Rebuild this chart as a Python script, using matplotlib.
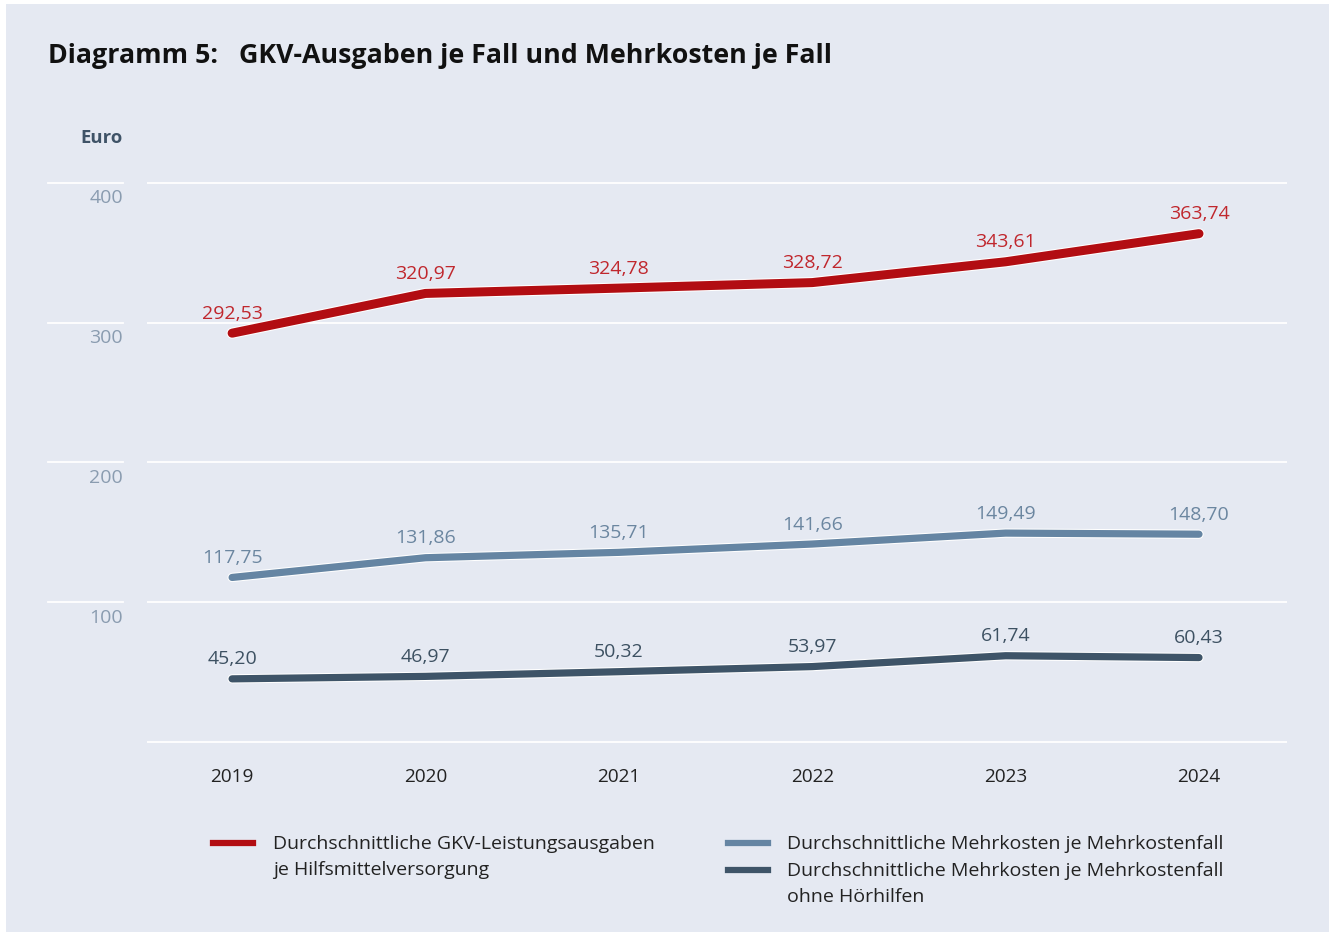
import matplotlib.pyplot as plt
import matplotlib.patheffects as pe
from matplotlib.patches import Rectangle

# Daten
years = [2019, 2020, 2021, 2022, 2023, 2024]
gkv_ausgaben = [292.53, 320.97, 324.78, 328.72, 343.61, 363.74]
mehrkosten = [117.75, 131.86, 135.71, 141.66, 149.49, 148.70]
mehrkosten_ohne_hoer = [45.20, 46.97, 50.32, 53.97, 61.74, 60.43]
y_ticks = [100, 200, 300, 400]

series_names = [
    "Durchschnittliche GKV-Leistungsausgaben\nje Hilfsmittelversorgung",
    "Durchschnittliche Mehrkosten je Mehrkostenfall",
    "Durchschnittliche Mehrkosten je Mehrkostenfall\nohne Hörhilfen",
]

BG = "#e5e9f2"
line_colors = ["#b20d12", "#6585a3", "#3e5468"]
text_colors = ["#c0272d", "#6b86a0", "#3d5162"]
widths = [6.5, 5.2, 5.2]

plt.rcParams["font.family"] = ["Open Sans", "DejaVu Sans"]

W, H = 1335, 935
fig = plt.figure(figsize=(W / 100, H / 100), dpi=100, facecolor="white")
fig.patches.append(Rectangle((6 / W, 1 - 932 / H), (1329 - 6) / W, (932 - 4) / H,
                             transform=fig.transFigure, facecolor=BG, edgecolor="none", zorder=-10))

# Achsen: x von 147 bis 1287 px, y-Bereich -10..410
ax = fig.add_axes([147 / W, 1 - 756 / H, 1140 / W, (756 - 169) / H])
ax.set_facecolor("none")
ax.set_xlim(2018.56, 2024.455)
ax.set_ylim(-10, 410)
for s in ax.spines.values():
    s.set_visible(False)
ax.set_xticks([])
ax.set_yticks([])

# Gitterlinien
for v in [0] + y_ticks:
    ax.axhline(v, color="white", lw=1.3, zorder=1)
ytr = ax.get_yaxis_transform()
for v in y_ticks:
    ax.plot([-0.0868, -0.0211], [v, v], color="white", lw=1.3, transform=ytr, clip_on=False)
    ax.annotate(str(v), xy=(-0.0211, v), xycoords=ytr, xytext=(0, -11), textcoords="offset points",
                ha="right", va="center", fontsize=14, color="#8a9cb0")

# Linien
all_series = [gkv_ausgaben, mehrkosten, mehrkosten_ohne_hoer]
for vals, lc, tc, lw in zip(all_series, line_colors, text_colors, widths):
    ax.plot(years, vals, color=lc, lw=lw, solid_capstyle="round", solid_joinstyle="round", zorder=3,
            path_effects=[pe.Stroke(linewidth=lw + 1.5, foreground="white"), pe.Normal()])
    for x, v in zip(years, vals):
        ax.annotate(f"{v:.2f}".replace(".", ","), xy=(x, v), xytext=(0, 14), textcoords="offset points",
                    ha="center", va="center", fontsize=14, color=tc)

# Jahre
for x in years:
    ax.text(x, -25, str(x), ha="center", va="center", fontsize=13.7, color="#222222", clip_on=False)

# Titel und Einheit
fig.text(48 / W, 1 - 56 / H, "Diagramm 5:   GKV-Ausgaben je Fall und Mehrkosten je Fall",
         fontsize=19.3, fontweight="bold", color="#111111", ha="left", va="center")
fig.text(123 / W, 1 - 138 / H, "Euro", fontsize=13.3, fontweight="bold", color="#3f5367",
         ha="right", va="center")

# Legende
legend_pos = [(213, 273, 843), (728, 787, 843), (728, 787, 870)]
for (x0, xt, y), lc, name in zip(legend_pos, line_colors, series_names):
    fig.add_artist(plt.Line2D([x0 / W, (x0 + 40) / W], [1 - y / H, 1 - y / H], color=lc, lw=4.5,
                              transform=fig.transFigure))
    fig.text(xt / W, 1 - (y - 8) / H, name, fontsize=14, color="#222222", ha="left", va="top",
             linespacing=1.55)

plt.savefig("out.png", dpi=100, facecolor="white")
